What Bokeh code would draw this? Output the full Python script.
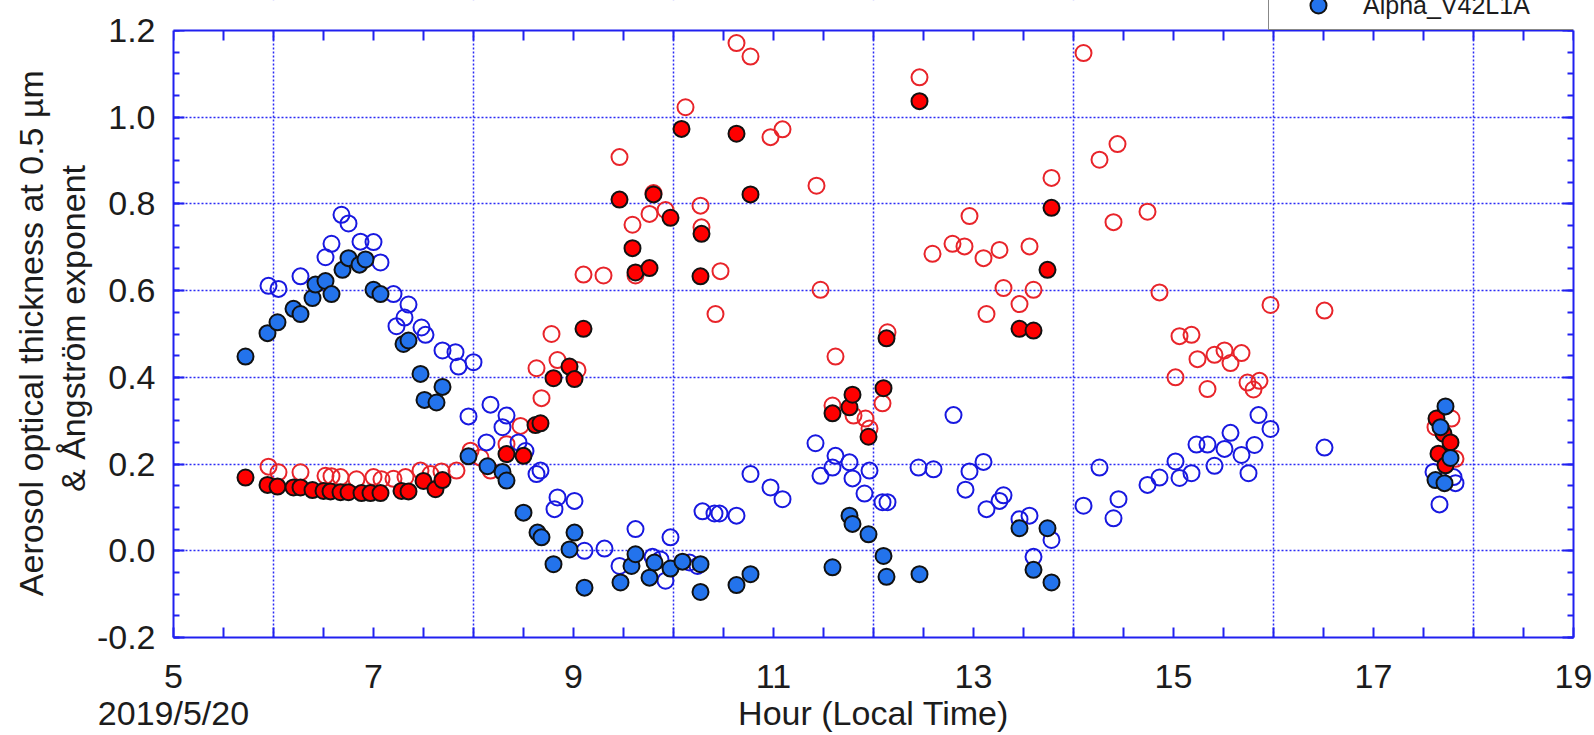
import numpy as np
from bokeh.plotting import figure
from bokeh.models import (Range1d, LinearAxis, FixedTicker, Legend, LegendItem, Span,
                          BoxAnnotation, CustomJSTickFormatter)
from bokeh.embed import file_html
from bokeh.resources import INLINE

# ---------------- data (hour of local time, value) ----------------
alpha_v42l1a_hr = [5.72, 5.94, 6.04, 6.20, 6.27, 6.39, 6.42, 6.52, 6.58, 6.69, 6.75, 6.86, 6.92,
                   7.00, 7.07, 7.30, 7.35, 7.47, 7.51, 7.63, 7.69, 7.95, 8.14, 8.29, 8.33, 8.50,
                   8.64, 8.68, 8.80, 8.96, 9.01, 9.11, 9.47, 9.58, 9.62, 9.76, 9.81, 9.97, 10.09,
                   10.27, 10.27, 10.63, 10.77, 11.59, 11.76, 11.79, 11.95, 12.10, 12.13, 12.46,
                   13.46, 13.60, 13.74, 13.78, 17.62, 17.67, 17.71, 17.72, 17.77]
alpha_v42l1a = [0.448, 0.502, 0.527, 0.558, 0.546, 0.583, 0.614, 0.622, 0.592, 0.648, 0.675, 0.660, 0.672,
                0.602, 0.592, 0.477, 0.485, 0.408, 0.348, 0.342, 0.378, 0.218, 0.195, 0.182, 0.162, 0.088,
                0.042, 0.031, -0.031, 0.003, 0.042, -0.085, -0.073, -0.035, -0.008, -0.062, -0.027, -0.041, -0.025,
                -0.031, -0.095, -0.079, -0.054, -0.038, 0.081, 0.062, 0.038, -0.012, -0.060, -0.054,
                0.052, -0.044, 0.052, -0.073, 0.163, 0.285, 0.156, 0.333, 0.214]

tau05_v42l1a_hr = [5.72, 5.94, 6.04, 6.20, 6.27, 6.39, 6.50, 6.57, 6.67, 6.75, 6.88, 6.97, 7.07,
                   7.28, 7.35, 7.50, 7.62, 7.69, 8.33, 8.50, 8.62, 8.67, 8.80, 8.96, 9.01, 9.10,
                   9.46, 9.59, 9.62, 9.76, 9.80, 9.97, 10.08, 10.27, 10.28, 10.63, 10.77, 11.59,
                   11.76, 11.79, 11.95, 12.10, 12.13, 12.46, 13.46, 13.60, 13.74, 13.78,
                   17.63, 17.65, 17.70, 17.72, 17.77]
tau05_v42l1a = [0.169, 0.152, 0.148, 0.146, 0.146, 0.140, 0.138, 0.137, 0.135, 0.135, 0.133, 0.133, 0.133,
                0.138, 0.137, 0.161, 0.142, 0.163, 0.223, 0.219, 0.290, 0.294, 0.398, 0.425, 0.396, 0.512,
                0.810, 0.698, 0.642, 0.652, 0.822, 0.768, 0.973, 0.633, 0.731, 0.962, 0.822, 0.317,
                0.331, 0.360, 0.263, 0.375, 0.490, 1.037, 0.512, 0.508, 0.648, 0.791,
                0.305, 0.224, 0.270, 0.197, 0.250]

tau05_v42l1_hr = [5.95, 6.05, 6.27, 6.52, 6.58, 6.67, 6.83, 7.00, 7.08, 7.20, 7.32, 7.47, 7.57, 7.68,
                  7.83, 7.97, 8.07, 8.17, 8.33, 8.47, 8.63, 8.68, 8.78, 8.84, 9.04, 9.10, 9.30, 9.46,
                  9.59, 9.62, 9.76, 9.80, 9.92, 10.12, 10.27, 10.28, 10.42, 10.47, 10.63, 10.77, 10.97,
                  11.09, 11.43, 11.47, 11.59, 11.62, 11.80, 11.92, 11.96, 12.09, 12.14, 12.46, 12.59,
                  12.79, 12.91, 12.96, 13.10, 13.13, 13.26, 13.30, 13.46, 13.56, 13.60, 13.78, 14.10,
                  14.26, 14.40, 14.44, 14.74, 14.86, 15.02, 15.06, 15.18, 15.24, 15.34, 15.41, 15.51,
                  15.57, 15.68, 15.74, 15.80, 15.86, 15.97, 16.51, 17.62, 17.78, 17.82]
tau05_v42l1 = [0.194, 0.181, 0.181, 0.173, 0.172, 0.170, 0.165, 0.170, 0.165, 0.166, 0.170, 0.185, 0.177, 0.183,
               0.185, 0.231, 0.215, 0.185, 0.246, 0.288, 0.421, 0.352, 0.500, 0.440, 0.417, 0.637, 0.635, 0.908,
               0.752, 0.635, 0.777, 0.825, 0.786, 1.023, 0.796, 0.746, 0.546, 0.645, 1.171, 1.140, 0.954,
               0.972, 0.842, 0.602, 0.335, 0.448, 0.312, 0.305, 0.282, 0.340, 0.504, 1.092, 0.685,
               0.708, 0.702, 0.772, 0.675, 0.546, 0.694, 0.606, 0.569, 0.702, 0.602, 0.860, 1.148,
               0.902, 0.758, 0.938, 0.782, 0.596, 0.400, 0.495, 0.498, 0.442, 0.373, 0.452, 0.462,
               0.433, 0.456, 0.388, 0.372, 0.392, 0.567, 0.554, 0.285, 0.305, 0.212]

alpha_v42l1_hr = [5.95, 6.05, 6.27, 6.52, 6.58, 6.68, 6.75, 6.87, 7.00, 7.07, 7.20, 7.23, 7.31, 7.35,
                  7.48, 7.52, 7.69, 7.82, 7.85, 8.00, 7.95, 8.13, 8.17, 8.29, 8.33, 8.45, 8.52, 8.63,
                  8.67, 8.81, 8.84, 9.01, 9.11, 9.31, 9.46, 9.62, 9.79, 9.87, 9.92, 9.97, 10.16, 10.24,
                  10.29, 10.41, 10.46, 10.63, 10.77, 10.97, 11.09, 11.42, 11.47, 11.59, 11.62, 11.76,
                  11.79, 11.91, 11.96, 12.09, 12.14, 12.45, 12.60, 12.80, 12.92, 12.96, 13.10, 13.13,
                  13.26, 13.30, 13.46, 13.56, 13.60, 13.78, 14.10, 14.26, 14.40, 14.45, 14.74, 14.86,
                  15.02, 15.06, 15.18, 15.23, 15.34, 15.41, 15.51, 15.57, 15.68, 15.75, 15.81, 15.85,
                  15.97, 16.51, 17.60, 17.66, 17.80, 17.82]
alpha_v42l1 = [0.611, 0.604, 0.633, 0.677, 0.708, 0.775, 0.755, 0.713, 0.712, 0.665, 0.592, 0.518, 0.538, 0.568,
               0.515, 0.498, 0.462, 0.458, 0.425, 0.435, 0.310, 0.250, 0.337, 0.285, 0.312, 0.250, 0.230, 0.177,
               0.185, 0.096, 0.123, 0.115, 0.000, 0.005, -0.035, 0.050, -0.014, -0.020, -0.069, 0.031, -0.027, -0.035,
               0.091, 0.086, 0.086, 0.081, 0.177, 0.146, 0.119, 0.248, 0.173, 0.192, 0.219, 0.204,
               0.167, 0.132, 0.185, 0.112, 0.112, 0.192, 0.188, 0.313, 0.141, 0.183, 0.205, 0.096,
               0.115, 0.128, 0.073, 0.081, -0.014, 0.025, 0.104, 0.192, 0.075, 0.119, 0.152, 0.169,
               0.206, 0.168, 0.179, 0.245, 0.245, 0.196, 0.235, 0.272, 0.221, 0.179, 0.244, 0.313,
               0.281, 0.238, 0.182, 0.107, 0.170, 0.156]

x_ticks = list(np.arange(5.0, 19.01, 0.5))
x_label_hours = [5, 7, 9, 11, 13, 15, 17, 19]
y_ticks = [-0.2, 0.0, 0.2, 0.4, 0.6, 0.8, 1.0, 1.2]
date_text = "2019/5/20"
xlabel = "Hour (Local Time)"
ylabel_1 = "Aerosol optical thickness at 0.5 µm"
ylabel_2 = "& Ångström exponent"
legend_label = "Alpha_V42L1A"

# ---------------- geometry / styles ----------------
AXIS_BLUE = "#2020f0"
GRID_BLUE = "#2a2af5"
FONT = "Liberation Sans"
TXT = "#1c1c1c"
Y0, Y1 = -0.2, 1.2
PLOT_H = 607          # pixels between y = -0.2 and y = 1.2
HEAD = 30             # pixels above the plot box (legend strip)
px_per_unit = PLOT_H / (Y1 - Y0)
y_top = Y1 + HEAD / px_per_unit

p = figure(frame_width=1400, frame_height=PLOT_H + HEAD, output_backend="svg", toolbar_location=None,
           x_range=Range1d(5, 19), y_range=Range1d(Y0, y_top),
           min_border_left=173, min_border_right=21, min_border_top=0, min_border_bottom=98,
           x_axis_location=None, y_axis_location=None)
p.outline_line_color = None
p.background_fill_color = "white"
p.border_fill_color = "white"

# tick labels: odd hours; second text line carries the date (under 5) and the axis title (under 12)
overrides = {}
for t in x_ticks:
    ft = float(t)
    overrides[ft] = str(int(ft)) if (ft.is_integer() and int(ft) in x_label_hours) else ""
overrides[5.0] = "5\n" + date_text
overrides[12.0] = "\u00a0\n" + xlabel

def style_axis(ax, labels=True):
    ax.axis_line_color = AXIS_BLUE
    ax.axis_line_width = 2
    ax.major_tick_line_color = AXIS_BLUE
    ax.major_tick_line_width = 2
    ax.minor_tick_line_color = AXIS_BLUE
    ax.minor_tick_line_width = 2
    ax.major_tick_out = 0
    ax.minor_tick_out = 0
    ax.major_label_text_font = FONT
    ax.major_label_text_color = TXT
    if labels:
        ax.major_label_text_font_size = "34px"
    else:
        ax.major_label_text_font_size = "0px"
        ax.major_label_text_alpha = 0
        ax.major_label_standoff = 0

xb = LinearAxis(ticker=FixedTicker(ticks=x_ticks, minor_ticks=[]), major_label_overrides=overrides)
style_axis(xb)
xb.major_tick_in = 10
xb.major_label_standoff = 19
xb.major_label_text_line_height = 0.98
p.add_layout(xb, "below")

# y title: two centred lines, nudged toward the lower end as in the reference
nb = "\u00a0"
ylabel = ylabel_1 + nb * 3 + "\n" + ylabel_2 + nb * 2

y_minor = list(np.round(np.arange(Y0, Y1 + 0.0001, 0.05), 3))
yl = LinearAxis(ticker=FixedTicker(ticks=y_ticks, minor_ticks=y_minor), bounds=(Y0, Y1))
style_axis(yl)
yl.major_tick_in = 11
yl.minor_tick_in = 6
yl.major_label_standoff = 18
yl.formatter = CustomJSTickFormatter(code="return tick.toFixed(1)")
yl.axis_label = ylabel
yl.axis_label_standoff = 2
yl.axis_label_text_font = FONT
yl.axis_label_text_font_size = "34px"
yl.axis_label_text_font_style = "normal"
yl.axis_label_text_color = TXT
yl.axis_label_text_line_height = 1.1
yr = LinearAxis(ticker=FixedTicker(ticks=y_ticks, minor_ticks=y_minor), bounds=(Y0, Y1),
                major_label_overrides={float(t): "" for t in y_ticks})
style_axis(yr, labels=False)
yr.major_tick_in = 11
yr.minor_tick_in = 6
p.add_layout(yl, "left")
p.add_layout(yr, "right")

p.xgrid.grid_line_color = GRID_BLUE
p.xgrid.grid_line_dash = "2 2"
p.xgrid.grid_line_width = 1.5
p.ygrid.grid_line_color = GRID_BLUE
p.ygrid.grid_line_dash = "2 2"
p.ygrid.grid_line_width = 1.5

open_red = dict(marker="circle", size=16, fill_color=None, line_color="#e8242a", line_width=2)
open_blue = dict(marker="circle", size=16, fill_color=None, line_color="#1818e0", line_width=2)
full_red = dict(marker="circle", size=16, fill_color="#ff0000", line_color="#111111", line_width=2)
full_blue = dict(marker="circle", size=16, fill_color="#2373ec", line_color="#111111", line_width=2)

p.scatter(tau05_v42l1_hr, tau05_v42l1, **open_red)
p.scatter(alpha_v42l1_hr, alpha_v42l1, **open_blue)
p.scatter(tau05_v42l1a_hr, tau05_v42l1a, **full_red)
r_alpha = p.scatter(alpha_v42l1a_hr, alpha_v42l1a, **full_blue)

# top edge of the plot box: strip above y = 1.2 is blank, top axis line with inward ticks
p.add_layout(BoxAnnotation(bottom=Y1, top=y_top + 0.2, left=4.0, right=20.0,
                           fill_color="white", fill_alpha=1.0, line_alpha=0))
tick_len = 10 / px_per_unit
p.segment(x0=x_ticks, y0=[Y1] * len(x_ticks), x1=x_ticks, y1=[Y1 - tick_len] * len(x_ticks),
          line_color=AXIS_BLUE, line_width=2)
p.add_layout(Span(location=Y1, dimension="width", line_color=AXIS_BLUE, line_width=2))

# ---------------- legend sitting on the top edge (upper part cut off) ----------------
legend = Legend(items=[LegendItem(label=legend_label, renderers=[r_alpha])],
                location=(1095, PLOT_H), padding=4, glyph_width=90, glyph_height=40,
                label_standoff=0, label_width=206, label_height=40, spacing=0, margin=0,
                label_text_font=FONT, label_text_font_size="25px", label_text_color=TXT,
                border_line_color="#111111", border_line_width=1.5,
                background_fill_color="white", background_fill_alpha=1.0)
p.add_layout(legend, "center")

open("out.html", "w").write(file_html(p, INLINE))
